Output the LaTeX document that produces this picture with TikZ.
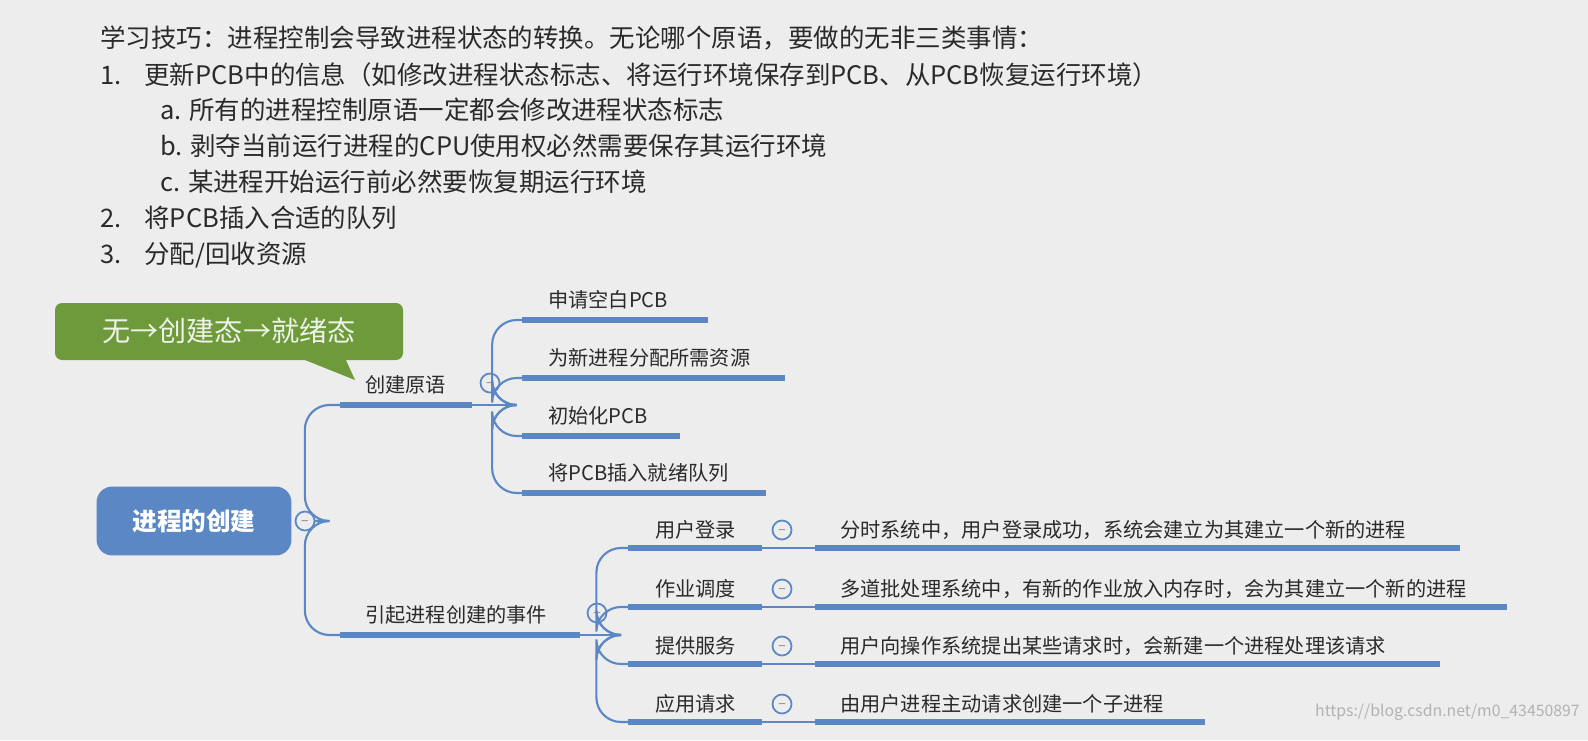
\documentclass[tikz,border=0pt]{standalone}
\usepackage{fontspec}
\setmainfont{Noto Sans CJK SC}
\usetikzlibrary{positioning, shapes.geometric, arrows.meta}
\definecolor{bg}{HTML}{EDEDED}
\definecolor{mapblue}{HTML}{5B88C4}
\definecolor{callgreen}{HTML}{6E9A3C}
\definecolor{txt}{HTML}{2A2A2A}

\begin{document}
\begin{tikzpicture}[x=0.02cm, y=-0.02cm,
  every node/.style={inner sep=0pt, text=txt},
  tip/.style={font=\fontsize{14.5}{16}\selectfont, anchor=west},
  leaf/.style={font=\fontsize{11.5}{13}\selectfont, anchor=west},
  bar/.style={mapblue, line width=3.2pt},
  link/.style={mapblue, line width=1.2pt, rounded corners=14pt},
  minus/.style={circle, draw=mapblue, line width=1pt, minimum size=0.38cm, fill=bg}]

\fill[bg] (0,0) rectangle (1588,740);

% Texte
\node[tip] (t0) at (100,38) {学习技巧：进程控制会导致进程状态的转换。无论哪个原语，要做的无非三类事情：};
\node[tip] (t1) at (100,75) {1.\hspace{0.9em}更新PCB中的信息（如修改进程状态标志、将运行环境保存到PCB、从PCB恢复运行环境）};
\node[tip] (ta) at (160,110) {a. 所有的进程控制原语一定都会修改进程状态标志};
\node[tip] (tb) at (160,146) {b. 剥夺当前运行进程的CPU使用权必然需要保存其运行环境};
\node[tip] (tc) at (160,182) {c. 某进程开始运行前必然要恢复期运行环境};
\node[tip] (t2) at (100,218) {2.\hspace{0.9em}将PCB插入合适的队列};
\node[tip] (t3) at (100,255) {3.\hspace{0.9em}分配/回收资源};

% Sprechblase
\fill[callgreen, rounded corners=4pt] (55,303) rectangle (403,360);
\fill[callgreen] (300,358) -- (355,380) -- (345,358) -- cycle;
\node[font=\fontsize{16}{18}\selectfont, text=white!88!callgreen] (state) at (229,331) {无→创建态→就绪态};

% Wurzel
\node[fill=mapblue, rounded corners=9pt, minimum width=3.9cm, minimum height=1.38cm,
  font=\fontsize{14}{16}\selectfont\bfseries, text=white] (root) at (194,521) {进程的创建};
\node[minus] (m0) at (305,521) {\tiny$-$};

% Zweige
\node[leaf] (prim) at (365,385) {创建原语};
\node[leaf] (event) at (365,615) {引起进程创建的事件};
\draw[bar] (340,405) coordinate (p0) -- (472,405) coordinate (p1);
\draw[bar] (340,635) coordinate (e0) -- (580,635) coordinate (e1);
\draw[link] (m0.east) -| ([xshift=-20]p0) -- (p0);
\draw[link] (m0.east) -| ([xshift=-20]e0) -- (e0);
\node[minus] (m1) at (490,383) {\tiny$-$};
\node[minus] (m2) at (597,613) {\tiny$-$};
\draw[mapblue, line width=1.2pt] (p1) -- (505,405) coordinate (p2);
\draw[mapblue, line width=1.2pt] (e1) -- (610,635) coordinate (e2);

% Schritte
\foreach \y/\x/\t [count=\i] in {320/708/申请空白PCB, 378/785/为新进程分配所需资源, 436/680/初始化PCB, 493/766/将PCB插入就绪队列} {
  \node[leaf] (s\i) at (548,\y-20) {\t};
  \draw[bar] (522,\y) coordinate (sb\i) -- (\x,\y);
  \draw[link] (p2) -| ([xshift=-17]sb\i) -- (sb\i);
}

% Ereignisse
\foreach \y/\x/\a/\b [count=\i] in {548/1460/用户登录/分时系统中，用户登录成功，系统会建立为其建立一个新的进程,
    607/1507/作业调度/多道批处理系统中，有新的作业放入内存时，会为其建立一个新的进程,
    664/1440/提供服务/用户向操作系统提出某些请求时，会新建一个进程处理该请求,
    722/1205/应用请求/由用户进程主动请求创建一个子进程} {
  \node[leaf] (ev\i) at (655,\y-18) {\a};
  \draw[bar] (628,\y) coordinate (eb\i) -- (762,\y) coordinate (ee\i);
  \draw[link] (e2) -| ([xshift=-18]eb\i) -- (eb\i);
  \node[minus] (mm\i) at (782,\y-18) {\tiny$-$};
  \draw[mapblue, line width=1.2pt] (ee\i) -- (815,\y);
  \draw[bar] (815,\y) -- (\x,\y);
  \node[leaf] (d\i) at (840,\y-18) {\b};
}

\node[anchor=east, font=\fontsize{9}{10}\selectfont, text=gray!60] (mark) at (1580,712) {https://blog.csdn.net/m0\_43450897};
\end{tikzpicture}
\end{document}
